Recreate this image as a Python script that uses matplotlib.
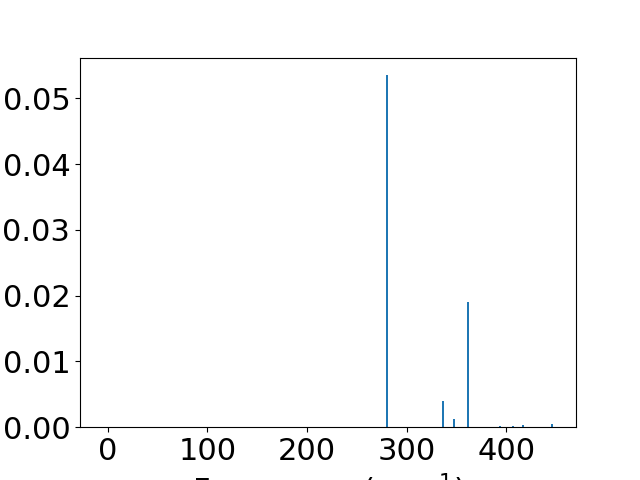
import numpy as np
from matplotlib import pyplot as plt

# vibrational frequencies (cm^-1) and intensities
freqs = [280.0, 336.4, 347.4, 361.5, 393.7, 407.0, 416.8, 445.9]
intens = [0.0535, 0.0040, 0.0012, 0.0190, 0.0002, 0.0002, 0.00035, 0.0005]

plt.rcParams['font.size'] = 22

fig = plt.figure(figsize=(6.4, 4.8), dpi=100)
ax = fig.add_subplot(111)
ax.bar(freqs, intens, width=2.0, color='C0')
ax.set_xlim(-28, 470)
ax.set_xlabel('Frequency (cm$^{-1}$)')

plt.savefig('out.png', dpi=100)
